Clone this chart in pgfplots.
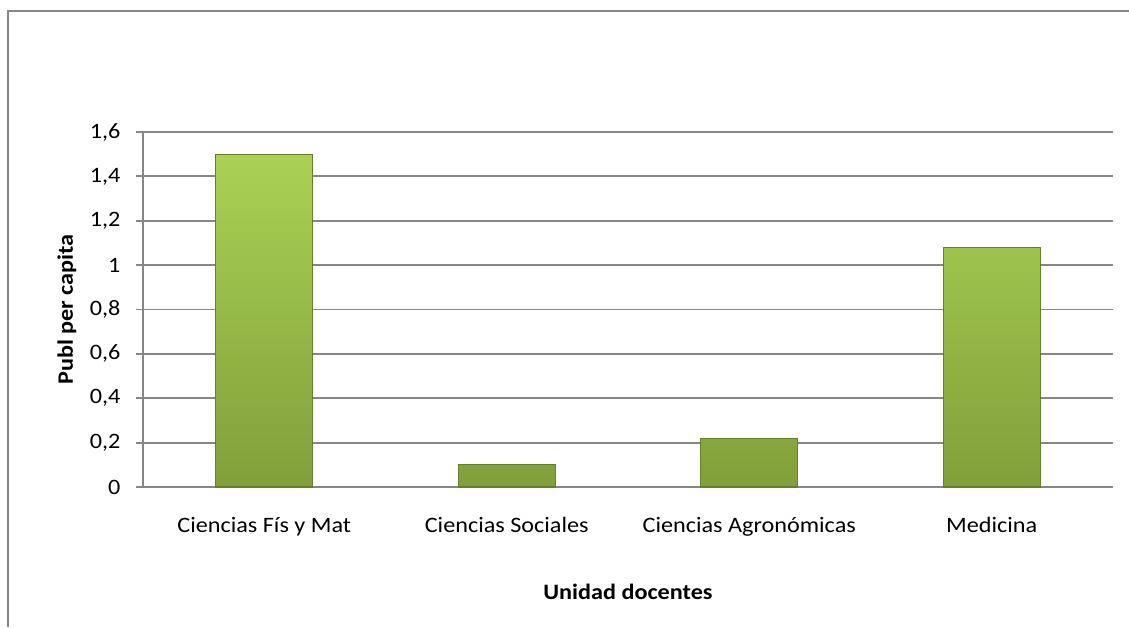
\documentclass[border=0pt]{standalone}
\usepackage{pgfplots}
\pgfplotsset{compat=1.18}
\usepackage{fontspec}
\setmainfont{Carlito}[FakeStretch=1.1]
\definecolor{gridgray}{RGB}{134,134,134}
\definecolor{bartop}{RGB}{170,209,84}
\definecolor{barbot}{RGB}{128,160,58}
\definecolor{baredge}{RGB}{100,128,42}
\begin{document}
\begin{tikzpicture}[x=1pt,y=1pt,font=\fontsize{22}{26}\selectfont]
\useasboundingbox (0,0) rectangle (1129,627);
\fill[white] (0,0) rectangle (1129,627);
\draw[gridgray, line width=2pt] (8,0) -- (8,616) -- (1129,616);
\begin{axis}[
  at={(143pt,140pt)}, anchor=south west,
  width=970pt, height=355pt, scale only axis,
  xmin=-0.5, xmax=3.5, ymin=0, ymax=1.6,
  axis lines*=left,
  axis line style={gridgray, line width=1.8pt},
  ymajorgrids, grid style={gridgray, line width=1.8pt},
  ytick={0,0.2,0.4,0.6,0.8,1,1.2,1.4,1.6},
  yticklabels={0,{0,2},{0,4},{0,6},{0,8},1,{1,2},{1,4},{1,6}},
  xtick={0,1,2,3},
  xticklabels={Ciencias Fís y Mat, Ciencias Sociales, Ciencias Agronómicas, Medicina},
  minor xtick={-0.5,0.5,1.5,2.5,3.5},
  tick align=outside,
  major tick length=7pt, minor tick length=8pt,
  every tick/.style={gridgray, line width=1.8pt},
  xtick style={draw=none},
  minor tick style={gridgray, line width=1.8pt},
  xticklabel style={anchor=base, yshift=-38pt},
  yticklabel style={anchor=east, xshift=-12pt},
  xlabel={\bfseries Unidad docentes},
  ylabel={\bfseries Publ per capita},
  xlabel style={at={(axis description cs:0.5,0)}, anchor=center, yshift=-105pt},
  ylabel style={at={(axis description cs:-0.0784,0.5)}, anchor=center},
  clip=false,
]
\addplot[ybar, bar width=97pt, top color=bartop, bottom color=barbot,
  draw=baredge, line width=1.2pt]
  coordinates {(0,1.50) (1,0.10) (2,0.22) (3,1.08)};
\end{axis}
\end{tikzpicture}
\end{document}
